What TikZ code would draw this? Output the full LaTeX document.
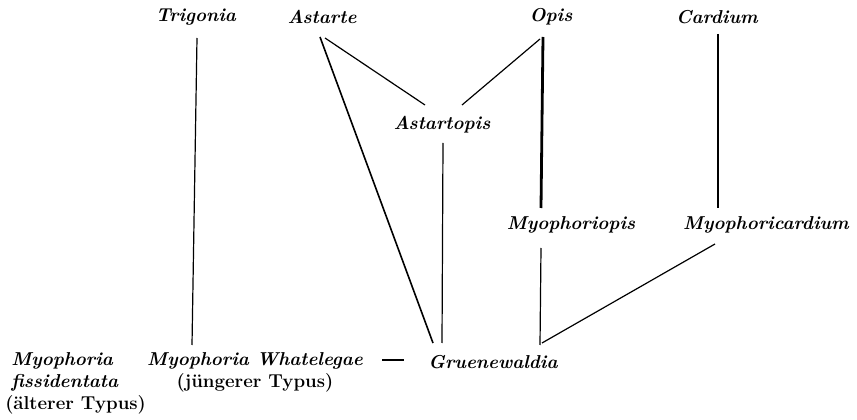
\documentclass[tikz,border=0pt]{standalone}
\usetikzlibrary{calc}
\begin{document}
\begin{tikzpicture}[x=0.75pt,y=-0.75pt,
  taxon/.style={font=\fontsize{14}{16.5}\selectfont\bfseries\itshape, inner sep=0pt},
  link/.style={line width=0.9pt},
  mid/.style={line width=1.2pt},
  heavy/.style={line width=2.1pt}]
\useasboundingbox (0,0) rectangle (857,420);
% top row
\node[taxon] (trig) at (196,17) {Trigonia};
\node[taxon] (ast)  at (322,17) {Astarte};
\node[taxon] (opis) at (551,17) {Opis};
\node[taxon] (card) at (717,17) {Cardium};
% middle
\node[taxon] (astp) at (442,125) {Astartopis};
\node[taxon] (myop) at (571,225) {Myophoriopis};
\node[taxon] (myoc) at (766,225) {Myophoricardium};
% bottom
\node[taxon, anchor=north west, align=left] (fiss) at (5,352)
  {\hspace*{4.5pt}Myophoria\\\hspace*{4.5pt}fissidentata\\{\upshape (älterer Typus)}};
\node[taxon, anchor=north, align=center] (whate) at (255,352)
  {Myophoria Whatelegae\\{\upshape (jüngerer Typus)}};
\node[taxon] (gru) at (493,362) {Gruenewaldia};
% connectors
\draw[link] ($(trig)+(1,21)$) -- ($(whate.north)+(-63,-7)$);
\draw[mid]  ($(ast)+(-2,20)$) -- ($(gru)+(-60,-19)$);
\draw[link] ($(ast)+(3,21)$) -- ($(astp)+(-17,-20)$);
\draw[link] ($(opis)+(-11,22)$) -- ($(astp)+(20,-20)$);
\draw[link] ($(astp)+(1,18)$) -- ($(gru)+(-51,-19)$);
\draw[heavy] ($(opis)+(-8,20)$) -- ($(myop)+(-30,-17)$);
\draw[heavy] ($(card)+(1,17)$) -- ($(myoc)+(-48,-17)$);
\draw[link] ($(myop)+(-30,23)$) -- ($(gru)+(47,-17)$);
\draw[link] ($(gru)+(49,-19)$) -- ($(myoc)+(-51,19)$);
\draw[link] ($(gru.west)+(-46,-2)$) -- ($(gru.west)+(-24,-2)$);
\end{tikzpicture}
\end{document}
